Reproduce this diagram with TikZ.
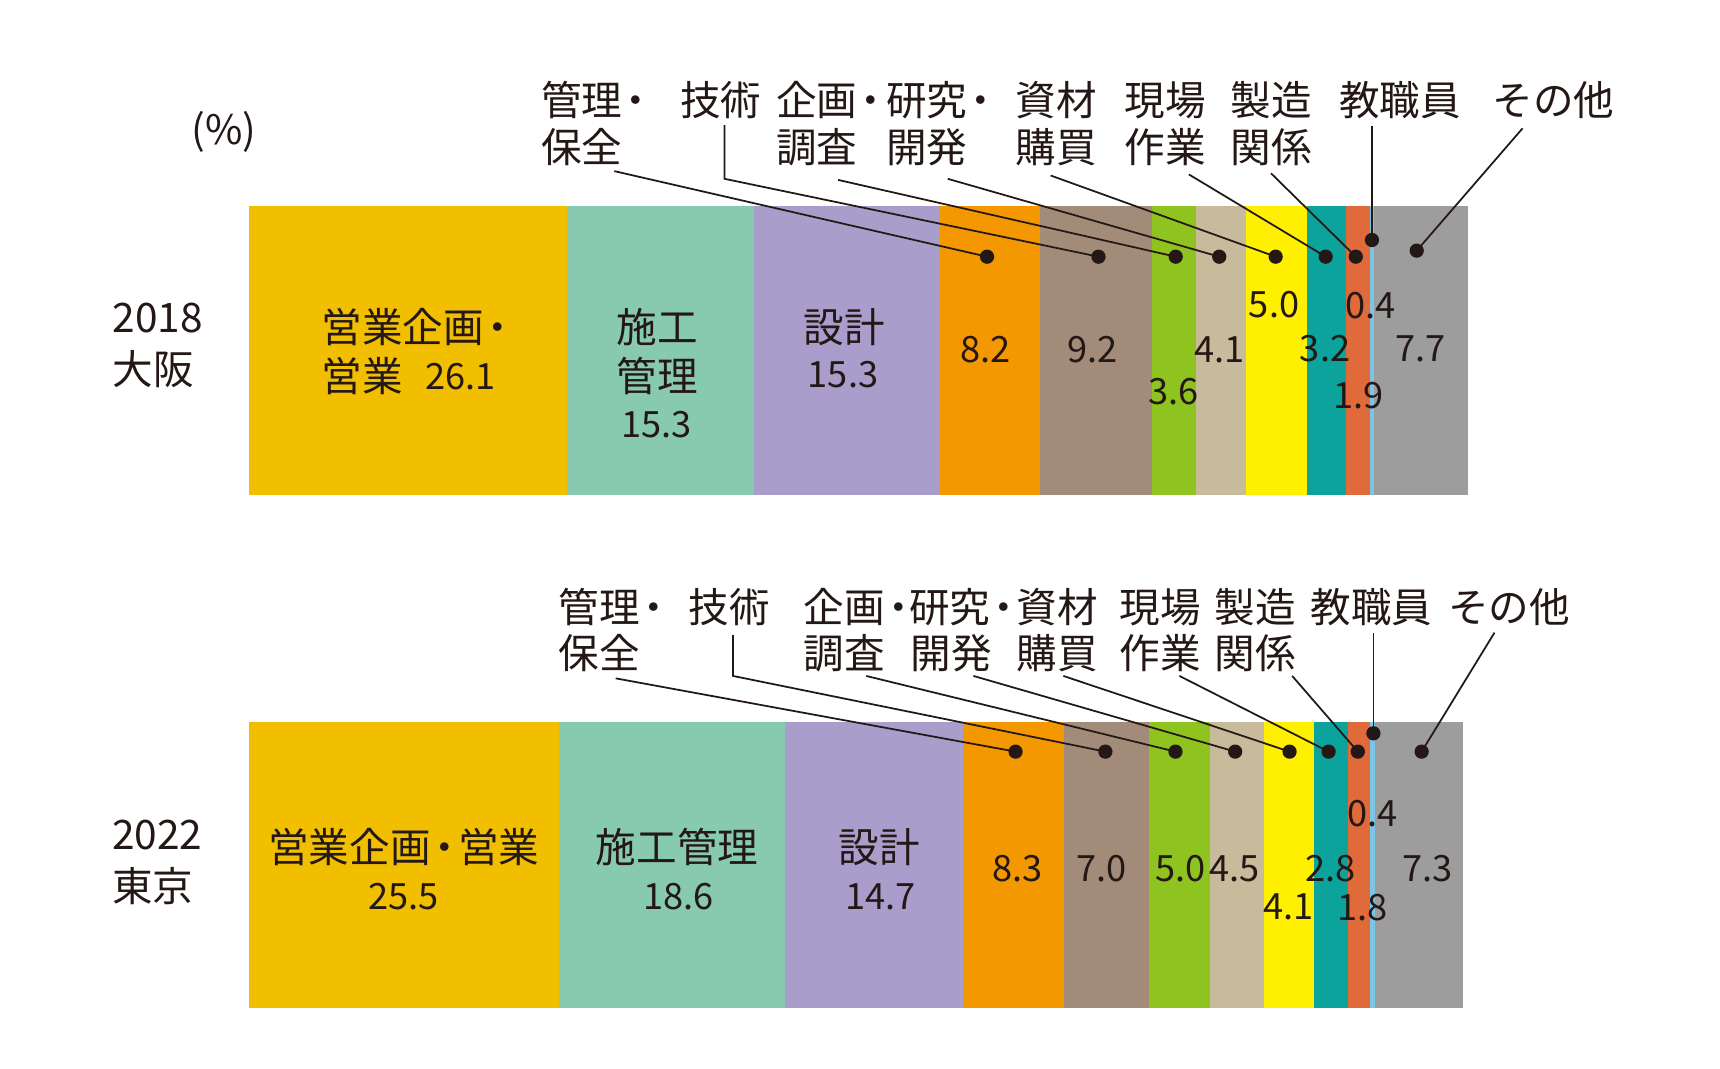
\documentclass[tikz,border=0pt]{standalone}
\usepackage{fontspec}
\setmainfont{Noto Sans CJK JP}
\newcommand{\jdot}{\makebox[0.68em][c]{・}}
\definecolor{ink}{HTML}{231815}
\definecolor{cA}{HTML}{F2BE00}
\definecolor{cB}{HTML}{88C9B1}
\definecolor{cC}{HTML}{A99ECB}
\definecolor{cD}{HTML}{F39800}
\definecolor{cE}{HTML}{A38B7A}
\definecolor{cF}{HTML}{8FC31F}
\definecolor{cG}{HTML}{C8BB9C}
\definecolor{cH}{HTML}{FFF000}
\definecolor{cI}{HTML}{0BA39B}
\definecolor{cJ}{HTML}{E06A3A}
\definecolor{cK}{HTML}{7CC5E4}
\definecolor{cL}{HTML}{9D9D9D}
\begin{document}
\begin{tikzpicture}[x=1pt,y=-1pt,
  jp/.style={inner sep=0pt, text=ink, font=\fontsize{37}{40}\selectfont, text height=32.5pt, text depth=4.5pt},
  num/.style={inner sep=0pt, text=ink, font=\fontsize{33}{36}\selectfont, text height=28pt, text depth=3.8pt},
  dot/.style={circle, fill=ink, inner sep=0pt, minimum size=13pt},
  leader/.style={draw=ink, line width=1.6pt}]
\useasboundingbox[fill=white] (0,0) rectangle (1568,974.5);

% ---------- 2018 bar ----------
\fill[cA] (227,187.5) rectangle (517.1,451);
\fill[cB] (517.1,187.5) rectangle (687.2,451);
\fill[cC] (687.2,187.5) rectangle (857.2,451);
\fill[cD] (857.2,187.5) rectangle (948.4,451);
\fill[cE] (948.4,187.5) rectangle (1050.6,451);
\fill[cF] (1050.6,187.5) rectangle (1090.6,451);
\fill[cG] (1090.6,187.5) rectangle (1136.2,451);
\fill[cH] (1136.2,187.5) rectangle (1191.8,451);
\fill[cI] (1191.8,187.5) rectangle (1227.4,451);
\fill[cJ] (1227.4,187.5) rectangle (1248.5,451);
\fill[cK] (1248.5,187.5) rectangle (1252.9,451);
\fill[cL] (1252.9,187.5) rectangle (1338.5,451);

% ---------- 2022 bar ----------
\fill[cA] (227,658) rectangle (509.3,919);
\fill[cB] (509.3,658) rectangle (715.2,919);
\fill[cC] (715.2,658) rectangle (877.9,919);
\fill[cD] (877.9,658) rectangle (969.8,919);
\fill[cE] (969.8,658) rectangle (1047.3,919);
\fill[cF] (1047.3,658) rectangle (1102.7,919);
\fill[cG] (1102.7,658) rectangle (1152.5,919);
\fill[cH] (1152.5,658) rectangle (1197.9,919);
\fill[cI] (1197.9,658) rectangle (1229.0,919);
\fill[cJ] (1229.0,658) rectangle (1248.9,919);
\fill[cK] (1248.9,658) rectangle (1253.2,919);
\fill[cL] (1253.2,658) rectangle (1334,919);

% ---------- left labels ----------
\node[jp] (pct) at (204,117.5) {(\%)};
\node[jp,anchor=west] (y18) at (102.7,288.7) {2018};
\node[jp,anchor=west] (osaka) at (102.5,336.6) {大阪};
\node[jp,anchor=west] (y22) at (102,760.3) {2022};
\node[jp,anchor=west] (tokyo) at (102,807.5) {東京};

% ---------- 2018 category labels ----------
\node[jp,anchor=west] (a1) at (493,91) {管理\jdot};
\node[jp,anchor=west] (a1b) at (493,134) {保全};
\node[jp,anchor=west] (a2) at (620,91) {技術};
\node[jp,anchor=west] (a3) at (707.5,91) {企画\jdot};
\node[jp,anchor=west] (a3b) at (707.5,134) {調査};
\node[jp,anchor=west] (a4) at (807.5,91) {研究\jdot};
\node[jp,anchor=west] (a4b) at (807.5,134) {開発};
\node[jp,anchor=west] (a5) at (926,91) {資材};
\node[jp,anchor=west] (a5b) at (926,134) {購買};
\node[jp,anchor=west] (a6) at (1025,91) {現場};
\node[jp,anchor=west] (a6b) at (1025,134) {作業};
\node[jp,anchor=west] (a7) at (1121.5,91) {製造};
\node[jp,anchor=west] (a7b) at (1121.5,134) {関係};
\node[jp,anchor=west] (a8) at (1220.5,91) {教職員};
\node[jp,anchor=west] (a9) at (1360.5,91) {その他};

% ---------- 2018 dots & leaders ----------
\node[dot] (d1) at (899.8,234) {};
\node[dot] (d2) at (1001.4,234) {};
\node[dot] (d3) at (1071.8,234) {};
\node[dot] (d4) at (1111.5,234) {};
\node[dot] (d5) at (1162.9,234) {};
\node[dot] (d6) at (1208.5,234) {};
\node[dot] (d7) at (1236,234) {};
\node[dot] (d8) at (1250.7,218.8) {};
\node[dot] (d9) at (1291.5,228.5) {};
\coordinate (s1) at (560,156);
\coordinate (s2) at (660.5,114);
\coordinate (k2) at (660.5,163);
\coordinate (s3) at (764,164);
\coordinate (s4) at (864,163);
\coordinate (s5) at (957.8,160);
\coordinate (s6) at (1083.8,159);
\coordinate (s7) at (1158.7,158);
\coordinate (s8) at (1250.7,115);
\coordinate (s9) at (1388,117);
\draw[leader] (s1) -- (d1.center);
\draw[leader] (s2) -- (k2) -- (d2.center);
\draw[leader] (s3) -- (d3.center);
\draw[leader] (s4) -- (d4.center);
\draw[leader] (s5) -- (d5.center);
\draw[leader] (s6) -- (d6.center);
\draw[leader] (s7) -- (d7.center);
\draw[leader] (s8) -- (d8.center);
\draw[leader] (s9) -- (d9.center);

% ---------- 2018 values ----------
\node[jp,anchor=west] (v1a) at (293,297.8) {営業企画\jdot};
\node[jp,anchor=west] (v1b) at (293,343) {営業};
\node[num] (v1) at (420,343) {26.1};
\node[jp] (v2a) at (599,297.8) {施工};
\node[jp] (v2b) at (599,343) {管理};
\node[num] (v2) at (598.6,387) {15.3};
\node[jp] (v3a) at (769.5,298) {設計};
\node[num] (v3) at (768.5,341.4) {15.3};
\node[num] (v4) at (898.6,318.3) {8.2};
\node[num] (v5) at (996.2,318.3) {9.2};
\node[num] (v6) at (1069.6,356.3) {3.6};
\node[num] (v7) at (1111.4,318.3) {4.1};
\node[num] (v8) at (1161.5,277.3) {5.0};
\node[num] (v9) at (1208,317.5) {3.2};
\node[num] (v10) at (1238.2,360) {1.9};
\node[num] (v11) at (1249.6,278.5) {0.4};
\node[num] (v12) at (1295,317.5) {7.7};

% ---------- 2022 category labels ----------
\node[jp,anchor=west] (b1) at (509,553.8) {管理\jdot};
\node[jp,anchor=west] (b1b) at (509,595.6) {保全};
\node[jp,anchor=west] (b2) at (627.5,553.8) {技術};
\node[jp,anchor=west] (b3) at (732.3,553.8) {企画\jdot};
\node[jp,anchor=west] (b3b) at (732.3,595.6) {調査};
\node[jp,anchor=west] (b4) at (828.5,553.8) {研究\jdot};
\node[jp,anchor=west] (b4b) at (830,595.6) {開発};
\node[jp,anchor=west] (b5) at (926.5,553.8) {資材};
\node[jp,anchor=west] (b5b) at (926.5,595.6) {購買};
\node[jp,anchor=west] (b6) at (1020.5,553.8) {現場};
\node[jp,anchor=west] (b6b) at (1020.5,595.6) {作業};
\node[jp,anchor=west] (b7) at (1107,553.8) {製造};
\node[jp,anchor=west] (b7b) at (1107,595.6) {関係};
\node[jp,anchor=west] (b8) at (1194.5,553.8) {教職員};
\node[jp,anchor=west] (b9) at (1320,553.8) {その他};

% ---------- 2022 dots & leaders ----------
\node[dot] (e1) at (925.8,685.2) {};
\node[dot] (e2) at (1007.7,685.2) {};
\node[dot] (e3) at (1071.6,685.2) {};
\node[dot] (e4) at (1126,685.2) {};
\node[dot] (e5) at (1175.6,685.2) {};
\node[dot] (e6) at (1211.2,685.2) {};
\node[dot] (e7) at (1237.8,685.2) {};
\node[dot] (e8) at (1252,668.5) {};
\node[dot] (e9) at (1296,685.2) {};
\coordinate (t1) at (561.3,618.4);
\coordinate (t2) at (668.2,578.9);
\coordinate (m2) at (668.2,616.2);
\coordinate (t3) at (789.7,616.2);
\coordinate (t4) at (887.4,616.2);
\coordinate (t5) at (969.4,616.2);
\coordinate (t6) at (1075.2,616.2);
\coordinate (t7) at (1178,616.2);
\coordinate (t8) at (1252,577.3);
\coordinate (t9) at (1362.4,576.7);
\draw[leader] (t1) -- (e1.center);
\draw[leader] (t2) -- (m2) -- (e2.center);
\draw[leader] (t3) -- (e3.center);
\draw[leader] (t4) -- (e4.center);
\draw[leader] (t5) -- (e5.center);
\draw[leader] (t6) -- (e6.center);
\draw[leader] (t7) -- (e7.center);
\draw[leader] (t8) -- (e8.center);
\draw[leader] (t9) -- (e9.center);

% ---------- 2022 values ----------
\node[jp] (w1a) at (368.2,772.6) {営業企画\jdot 営業};
\node[num] (w1) at (368.2,816.6) {25.5};
\node[jp] (w2a) at (617.2,772.6) {施工管理};
\node[num] (w2) at (618.4,816.6) {18.6};
\node[jp] (w3a) at (801.5,772.6) {設計};
\node[num] (w3) at (802.6,816.6) {14.7};
\node[num] (w4) at (927.5,791.5) {8.3};
\node[num] (w5) at (1004.5,791.5) {7.0};
\node[num] (w6) at (1076,791.5) {5.0};
\node[num] (w7) at (1125.5,791.5) {4.5};
\node[num] (w8) at (1174.6,825.7) {4.1};
\node[num] (w9) at (1212.6,791.5) {2.8};
\node[num] (w10) at (1241.8,827) {1.8};
\node[num] (w11) at (1251,741.5) {0.4};
\node[num] (w12) at (1301.4,791.5) {7.3};
\end{tikzpicture}
\end{document}
